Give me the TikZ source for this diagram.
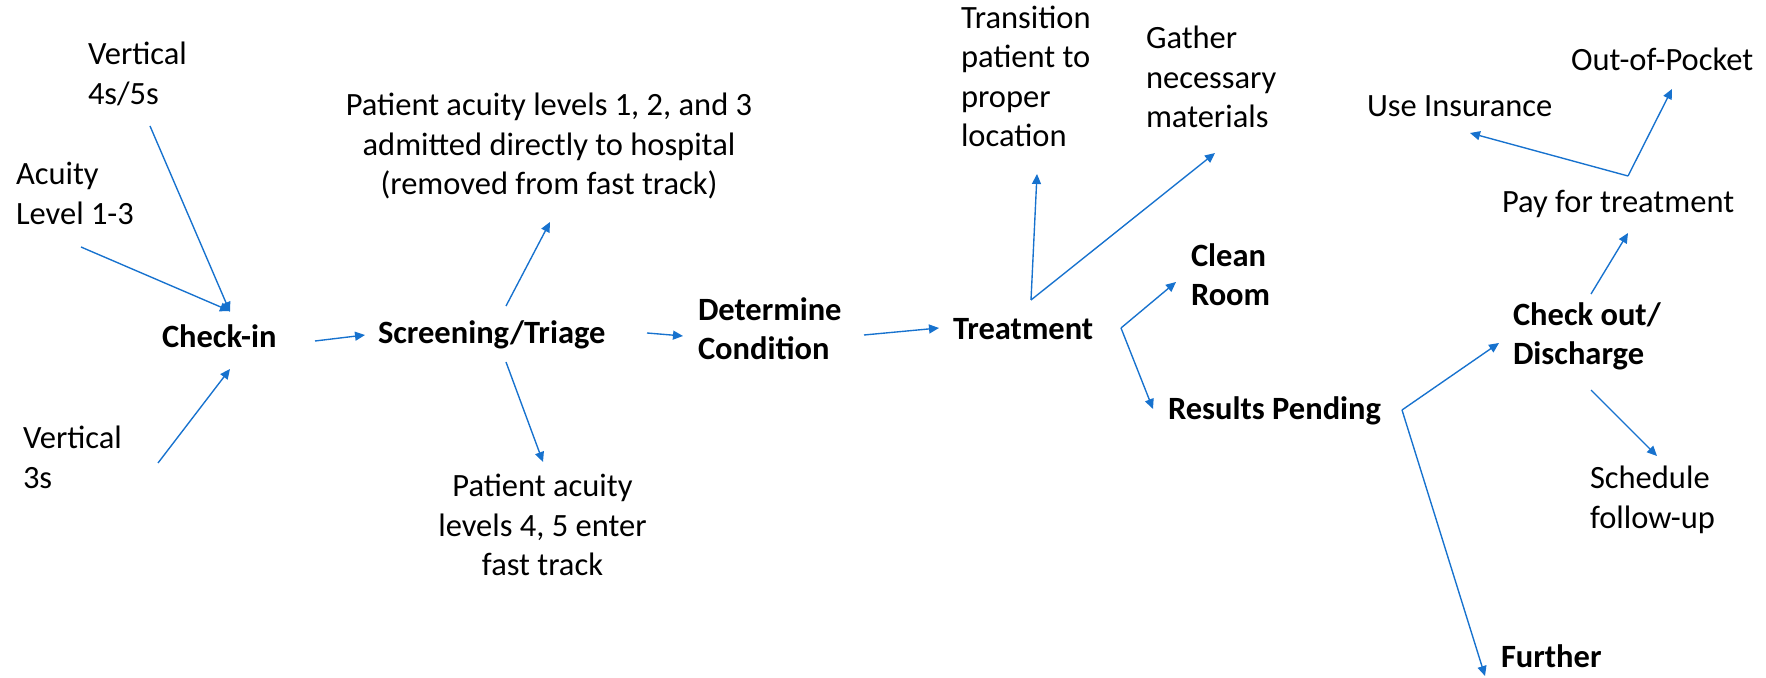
\documentclass[tikz,border=0pt]{standalone}
\usepackage{fontspec}
\setmainfont{Carlito}
\usetikzlibrary{arrows.meta}
\definecolor{arrowblue}{RGB}{23,114,206}
\begin{document}
\begin{tikzpicture}[x=0.4pt,y=-0.4pt,
  lbl/.style={inner sep=0pt, outer sep=0pt, font=\fontsize{13}{15.8}\selectfont, execute at begin node=\strut, anchor=north west, align=left},
  blbl/.style={lbl, font=\fontsize{13}{15.8}\selectfont\bfseries},
  clbl/.style={lbl, anchor=north, align=center},
  flow/.style={draw=arrowblue, line width=0.55pt, -{Triangle[length=4pt,width=3.6pt]}}
]
\useasboundingbox (0,0) rectangle (1766,678);

% labels
\node[lbl]  (v45)      at (88,42.35)    {Vertical\\4s/5s};
\node[lbl]  (acuity)   at (16,162.35)   {Acuity\\Level 1-3};
\node[blbl] (checkin)  at (162,320.35)  {Check-in};
\node[lbl]  (v3)       at (23,426.35)   {Vertical\\3s};
\node[blbl] (screen)   at (378,316.35)  {Screening/Triage};
\node[clbl] (p123)     at (549,93.35)   {Patient acuity levels 1, 2, and 3\\admitted directly to hospital\\(removed from fast track)};
\node[clbl] (p45)      at (542.5,474.35) {Patient acuity\\levels 4, 5 enter\\fast track};
\node[blbl] (determ)   at (698,297.35)  {Determine\\Condition};
\node[blbl] (treat)    at (953,312.35)  {Treatment};
\node[lbl]  (trans)    at (961,5.85)    {Transition\\patient to\\proper\\location};
\node[lbl]  (gather)   at (1146,26.35)  {Gather\\necessary\\materials};
\node[blbl] (clean)    at (1191,243.35) {Clean\\Room};
\node[blbl] (results)  at (1168,392.35) {Results Pending};
\node[lbl]  (oop)      at (1571,43.35)  {Out-of-Pocket};
\node[lbl]  (ins)      at (1367,89.35)  {Use Insurance};
\node[lbl]  (pay)      at (1502,185.35) {Pay for treatment};
\node[blbl] (checkout) at (1513,302.35) {Check out/\\Discharge};
\node[blbl] (further)  at (1501,639.35) {Further};
\node[lbl]  (sched)    at (1590,466.35) {Schedule\\follow-up};

% connector end points
\coordinate (v45-o)   at (150,126);
\coordinate (ci-a)    at (230,312);
\coordinate (acu-o)   at (81,247);
\coordinate (ci-b)    at (230,311);
\coordinate (v3-o)    at (158,463);
\coordinate (ci-c)    at (230,369);
\coordinate (ci-o)    at (315,341);
\coordinate (sc-i)    at (365,335);
\coordinate (sc-up)   at (506,306);
\coordinate (p123-i)  at (550,222);
\coordinate (sc-dn)   at (506,362);
\coordinate (p45-i)   at (543,462);
\coordinate (sc-o)    at (647,333);
\coordinate (de-i)    at (683,336);
\coordinate (de-o)    at (864,335);
\coordinate (tr-i)    at (939,328);
\coordinate (tr-up)   at (1031,300);
\coordinate (trans-i) at (1037,174);
\coordinate (gath-i)  at (1215,153);
\coordinate (tr-o)    at (1121,328);
\coordinate (cl-i)    at (1176,282);
\coordinate (re-i)    at (1153,409);
\coordinate (re-o)    at (1402,410);
\coordinate (co-i)    at (1499,343);
\coordinate (fu-i)    at (1485,676);
\coordinate (co-up)   at (1591,294);
\coordinate (pay-i)   at (1628,233);
\coordinate (pay-o)   at (1628,176);
\coordinate (ins-i)   at (1470,133);
\coordinate (oop-i)   at (1672,89);
\coordinate (co-dn)   at (1591,390);
\coordinate (sch-i)   at (1657,456);

% connectors
\draw[flow] (v45-o) -- (ci-a);
\draw[flow] (acu-o) -- (ci-b);
\draw[flow] (v3-o) -- (ci-c);
\draw[flow] (ci-o) -- (sc-i);
\draw[flow] (sc-up) -- (p123-i);
\draw[flow] (sc-dn) -- (p45-i);
\draw[flow] (sc-o) -- (de-i);
\draw[flow] (de-o) -- (tr-i);
\draw[flow] (tr-up) -- (trans-i);
\draw[flow] (tr-up) -- (gath-i);
\draw[flow] (tr-o) -- (cl-i);
\draw[flow] (tr-o) -- (re-i);
\draw[flow] (re-o) -- (co-i);
\draw[flow] (re-o) -- (fu-i);
\draw[flow] (co-up) -- (pay-i);
\draw[flow] (pay-o) -- (ins-i);
\draw[flow] (pay-o) -- (oop-i);
\draw[flow] (co-dn) -- (sch-i);
\end{tikzpicture}
\end{document}
